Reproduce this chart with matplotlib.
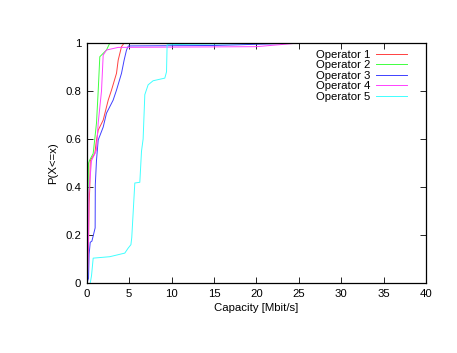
import matplotlib
matplotlib.use("Agg")
import matplotlib.pyplot as plt

plt.rcParams['font.family'] = ['Liberation Sans', 'DejaVu Sans']

# CDF curves (capacity in Mbit/s, P(X<=x))
op1_x = [0, 0.1, 0.2, 0.27, 0.35, 0.4, 0.94, 1.14, 1.34, 1.93, 2.52, 2.91, 3.5, 3.7, 4.09, 4.4, 25]
op1_y = [0, 0.05, 0.16, 0.33, 0.40, 0.51, 0.54, 0.596, 0.637, 0.679, 0.762, 0.804, 0.874, 0.929, 0.985, 1.0, 1.0]

op2_x = [0, 0.02, 0.1, 0.2, 0.3, 0.75, 1.14, 1.34, 1.53, 2.32, 2.71, 25]
op2_y = [0, 0.07, 0.3, 0.5, 0.51, 0.54, 0.667, 0.80, 0.943, 0.971, 1.0, 1.0]

op3_x = [0, 0.2, 0.27, 0.4, 0.6, 0.98, 1.0, 1.14, 1.34, 1.93, 2.32, 3.1, 3.5, 4.09, 4.4, 4.68, 4.9, 15, 25]
op3_y = [0, 0.02, 0.12, 0.17, 0.175, 0.23, 0.41, 0.512, 0.596, 0.65, 0.708, 0.762, 0.804, 0.874, 0.929, 0.971, 0.988, 0.99, 1.0]

op4_x = [0, 0.1, 0.2, 0.24, 0.55, 1.14, 1.34, 1.73, 1.93, 2.32, 3.7, 20, 25]
op4_y = [0, 0.05, 0.19, 0.375, 0.51, 0.554, 0.667, 0.80, 0.95, 0.971, 0.982, 0.985, 1.0]

op5_x = [0.4, 0.55, 0.75, 2.71, 4.48, 4.88, 5.2, 5.3, 5.66, 6.25, 6.45, 6.64, 6.84, 7.23, 7.82, 9.2, 9.4, 9.47, 12, 25]
op5_y = [0, 0.03, 0.104, 0.11, 0.125, 0.146, 0.16, 0.19, 0.417, 0.42, 0.55, 0.60, 0.785, 0.826, 0.843, 0.854, 0.88, 0.993, 0.995, 1.0]

labels = ['Operator 1', 'Operator 2', 'Operator 3', 'Operator 4', 'Operator 5']
colors = ['#ff4040', '#40ff40', '#4040ff', '#ff40ff', '#40ffff']

fig = plt.figure(figsize=(4.57, 3.53), dpi=100)
ax = fig.add_axes([0.190, 0.198, 0.742, 0.680])

series = [(op1_x, op1_y), (op2_x, op2_y), (op3_x, op3_y), (op4_x, op4_y), (op5_x, op5_y)]
for (xs, ys), lab, c in zip(series, labels, colors):
    ax.plot(xs, ys, color=c, lw=0.7, label=lab)

ax.set_xlim(0, 40)
ax.set_ylim(0, 1)
ax.set_xticks(range(0, 41, 5))
ax.set_yticks([0, 0.2, 0.4, 0.6, 0.8, 1])
ax.set_yticklabels(['0', '0.2', '0.4', '0.6', '0.8', '1'])
ax.tick_params(direction='in', top=True, right=True, labelsize=8.2, length=4, width=0.6, pad=4)
for s in ax.spines.values():
    s.set_linewidth(0.9)

ax.set_xlabel('Capacity [Mbit/s]', fontsize=8.2, labelpad=3)
ax.set_ylabel('P(X<=x)', fontsize=8.2, labelpad=5)

leg = ax.legend(loc='upper right', frameon=False, markerfirst=False, fontsize=8.2,
                handlelength=2.7, handletextpad=0.5, labelspacing=0.05,
                bbox_to_anchor=(0.966, 1.003), borderaxespad=0.25)

fig.savefig('out.png', dpi=100)
